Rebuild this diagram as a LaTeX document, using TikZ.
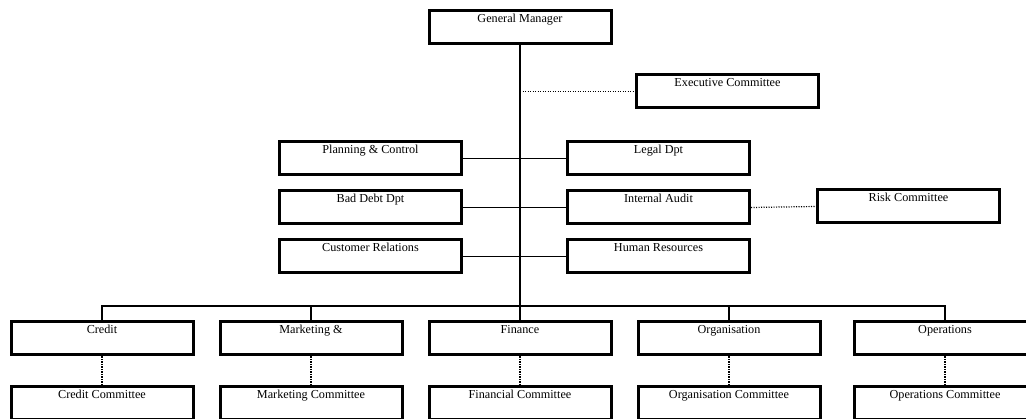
\documentclass[tikz,border=0pt]{standalone}
\usepackage{fontspec}
\setmainfont{Liberation Serif}
\begin{document}
\begin{tikzpicture}[x=1pt,y=-1pt,
  box/.style={draw,line width=3pt,minimum width=182pt,inner xsep=2pt,inner ysep=1.5pt,
    text height=10.5pt,text depth=19.5pt,font=\fontsize{12.2}{14}\selectfont},
  link/.style={line width=1.5pt},
  trunk/.style={line width=2pt},
  assoc/.style={line width=1.2pt,dash pattern=on 1.2pt off 1.3pt}]
\useasboundingbox (0,0) rectangle (1026,419);
\clip (0,0) rectangle (1026,419);
\fill[white] (0,0) rectangle (1026,419);

% top of the hierarchy
\node[box] (gm)    at (520,27.5)   {General Manager};
\node[box] (exec)  at (727.5,91.5) {Executive Committee};

% staff departments
\node[box] (plan)  at (370.5,158.5) {Planning \& Control};
\node[box] (legal) at (658.5,158.5) {Legal Dpt};
\node[box] (bad)   at (370.5,207.5) {Bad Debt Dpt};
\node[box] (audit) at (658.5,207.5) {Internal Audit};
\node[box] (cust)  at (370.5,256.5) {Customer Relations};
\node[box] (hr)    at (658.5,256.5) {Human Resources};
\node[box] (risk)  at (908.5,206.5) {Risk Committee};

% line divisions
\node[box] (credit) at (102,338.5) {Credit};
\node[box] (mkt)    at (311,338.5) {Marketing \&};
\node[box] (fin)    at (520,338.5) {Finance};
\node[box] (org)    at (729,338.5) {Organisation};
\node[box] (ops)    at (945,338.5) {Operations};

% committees
\node[box] (creditc) at (102,403) {Credit Committee};
\node[box] (mktc)    at (311,403) {Marketing Committee};
\node[box] (finc)    at (520,403) {Financial Committee};
\node[box] (orgc)    at (729,403) {Organisation Committee};
\node[box] (opsc)    at (945,403) {Operations Committee};

\coordinate (bus) at (520,306);
\coordinate (execj) at (gm.south |- exec.west);

% reporting lines
\draw[trunk] (gm.south) -- (bus);
\draw[link] (plan.east) -- (legal.west);
\draw[link] (bad.east) -- (audit.west);
\draw[link] (cust.east) -- (hr.west);
\draw[link] (credit.north) |- (bus) -| (ops.north);
\draw[link] (mkt.north) -- (mkt.north |- bus);
\draw[link] (fin.north) -- (bus);
\draw[link] (org.north) -- (org.north |- bus);

% advisory links
\draw[assoc] (execj) -- (exec.west);
\draw[assoc] (audit.east) -- (risk.west);
\draw[assoc] (credit.south) -- (creditc.north);
\draw[assoc] (mkt.south) -- (mktc.north);
\draw[assoc] (fin.south) -- (finc.north);
\draw[assoc] (org.south) -- (orgc.north);
\draw[assoc] (ops.south) -- (opsc.north);
\end{tikzpicture}
\end{document}
